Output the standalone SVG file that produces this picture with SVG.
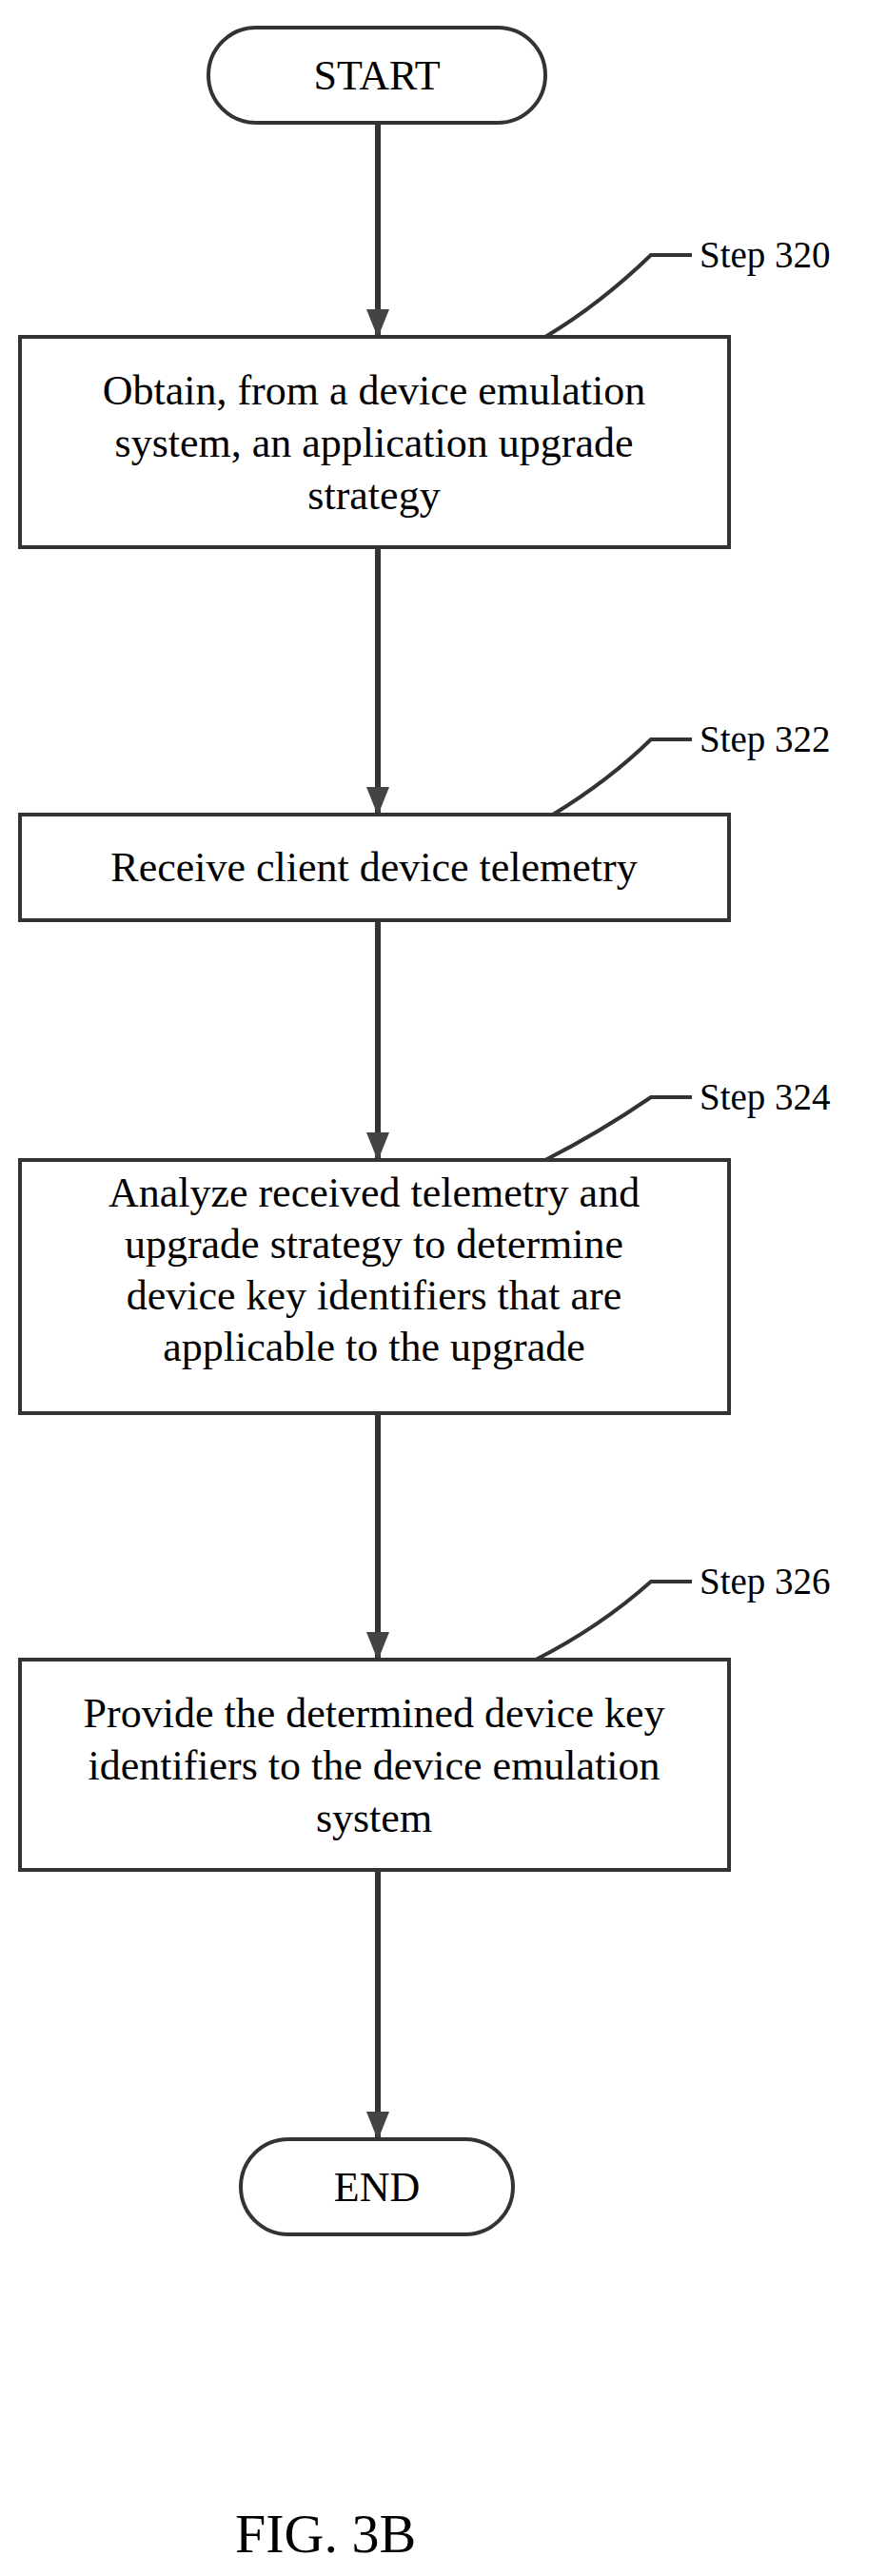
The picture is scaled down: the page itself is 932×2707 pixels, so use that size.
<svg xmlns="http://www.w3.org/2000/svg" width="932" height="2707" viewBox="0 0 932 2707">
<style>
.s{fill:#fff;stroke:#333;stroke-width:4}
.t{font-family:"Liberation Serif",serif;font-size:44px;fill:#000;text-anchor:middle}
.l{font-family:"Liberation Serif",serif;font-size:39px;fill:#000}
.c{fill:none;stroke:#333;stroke-width:4}
</style>
<defs><marker id="a" markerWidth="30" markerHeight="24" refX="28" refY="12" orient="auto" markerUnits="userSpaceOnUse"><path d="M0,0 L30,12 L0,24 z" fill="#444"/></marker></defs>
<rect width="932" height="2707" fill="#fff"/>
<g id="connectors">
<line class="c" x1="397" y1="129" x2="397" y2="353" marker-end="url(#a)" style="stroke-width:6"/>
<line class="c" x1="397" y1="575" x2="397" y2="855" marker-end="url(#a)" style="stroke-width:6"/>
<line class="c" x1="397" y1="967" x2="397" y2="1218" marker-end="url(#a)" style="stroke-width:6"/>
<line class="c" x1="397" y1="1485" x2="397" y2="1743" marker-end="url(#a)" style="stroke-width:6"/>
<line class="c" x1="397" y1="1965" x2="397" y2="2247" marker-end="url(#a)" style="stroke-width:6"/>
<path class="c" d="M573,354 Q630,320 684,268 L727,268"/>
<path class="c" d="M581,856 Q640,820 684,777 L727,777"/>
<path class="c" d="M573,1219 Q630,1190 684,1153 L727,1153"/>
<path class="c" d="M563,1744 Q630,1710 684,1662 L727,1662"/>
</g>
<g id="start"><rect class="s" x="219" y="29" width="354" height="100" rx="50"/><text class="t" x="396" y="94">START</text></g>
<g id="step320"><rect class="s" x="21" y="354" width="745" height="221"/>
<text class="t" x="393" y="425">Obtain, from a device emulation</text><text class="t" x="393" y="480">system, an application upgrade</text><text class="t" x="393" y="535">strategy</text>
<text class="l" x="735" y="281">Step 320</text></g>
<g id="step322"><rect class="s" x="21" y="856" width="745" height="111"/>
<text class="t" x="393" y="926">Receive client device telemetry</text>
<text class="l" x="735" y="790">Step 322</text></g>
<g id="step324"><rect class="s" x="21" y="1219" width="745" height="266"/>
<text class="t" x="393" y="1268">Analyze received telemetry and</text><text class="t" x="393" y="1322">upgrade strategy to determine</text><text class="t" x="393" y="1376">device key identifiers that are</text><text class="t" x="393" y="1430">applicable to the upgrade</text>
<text class="l" x="735" y="1166">Step 324</text></g>
<g id="step326"><rect class="s" x="21" y="1744" width="745" height="221"/>
<text class="t" x="393" y="1815">Provide the determined device key</text><text class="t" x="393" y="1870">identifiers to the device emulation</text><text class="t" x="393" y="1925">system</text>
<text class="l" x="735" y="1675">Step 326</text></g>
<g id="end"><rect class="s" x="253" y="2248" width="286" height="100" rx="50"/><text class="t" x="396" y="2313">END</text></g>
<text x="342" y="2682" style="font-family:'Liberation Serif',serif;font-size:58px;text-anchor:middle">FIG. 3B</text>
</svg>
